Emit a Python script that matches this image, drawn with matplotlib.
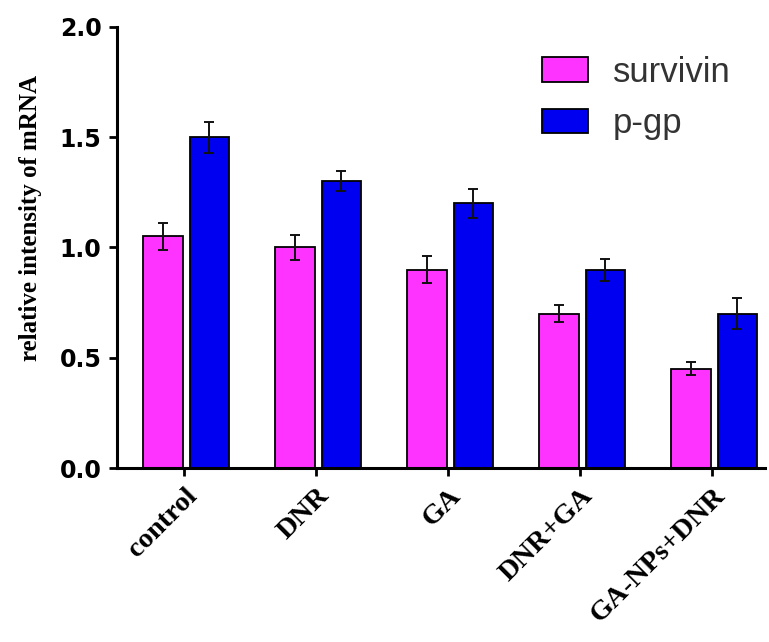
import matplotlib
matplotlib.use("Agg")
import matplotlib.pyplot as plt
import numpy as np

categories = ["control", "DNR", "GA", "DNR+GA", "GA-NPs+DNR"]
survivin = [1.05, 1.00, 0.90, 0.70, 0.45]
survivin_err = [0.06, 0.055, 0.06, 0.04, 0.03]
pgp = [1.50, 1.30, 1.20, 0.90, 0.70]
pgp_err = [0.07, 0.045, 0.065, 0.05, 0.07]
yticks = [0.0, 0.5, 1.0, 1.5, 2.0]

fig = plt.figure(figsize=(7.69, 6.42), dpi=100)
ax = fig.add_axes([0.152, 0.271, 0.843, 0.687])

x = np.arange(len(categories))
w = 0.30
ax.bar(x - 0.16, survivin, width=w, color="#FF33FF", edgecolor="black",
       linewidth=1.3, label="survivin", zorder=2)
ax.bar(x + 0.19, pgp, width=w, color="#0000F0", edgecolor="black",
       linewidth=1.3, label="p-gp", zorder=2)
ax.errorbar(x - 0.16, survivin, yerr=survivin_err, fmt="none", ecolor="#111111",
            elinewidth=1.4, capsize=3.5, capthick=1.4, zorder=3)
ax.errorbar(x + 0.19, pgp, yerr=pgp_err, fmt="none", ecolor="#111111",
            elinewidth=1.4, capsize=3.5, capthick=1.4, zorder=3)

ax.set_xlim(-0.51, 4.40)
ax.set_ylim(0, 2.0)
ax.set_yticks(yticks)
ax.set_yticklabels([f"{v:.1f}" for v in yticks], fontsize=17, fontweight="bold",
                   family="DejaVu Sans")
ax.set_xticks(x)
ax.set_xticklabels(categories, rotation=45, ha="right", rotation_mode="anchor",
                   fontsize=20.5, fontweight="bold", family="Liberation Serif")
ax.set_ylabel("relative intensity of mRNA", fontsize=18, fontweight="bold",
              family="Liberation Serif")
ax.yaxis.set_label_coords(-0.115, 0.567)

for s in ["top", "right"]:
    ax.spines[s].set_visible(False)
for s in ["left", "bottom"]:
    ax.spines[s].set_linewidth(2.2)
ax.tick_params(axis="both", direction="out", length=6, width=2.0)
ax.tick_params(axis="y", pad=5)
ax.tick_params(axis="x", pad=5)

leg = fig.legend(*ax.get_legend_handles_labels(), loc="upper left",
                 bbox_to_anchor=(542 / 769, 1 - 56 / 642), frameon=False,
                 borderpad=0, borderaxespad=0,
                 prop={"family": "Liberation Sans", "size": 25},
                 handlelength=1.33, handleheight=0.72, handletextpad=0.72,
                 labelspacing=0.52, labelcolor="#333333")

fig.savefig("out.png", dpi=100)
